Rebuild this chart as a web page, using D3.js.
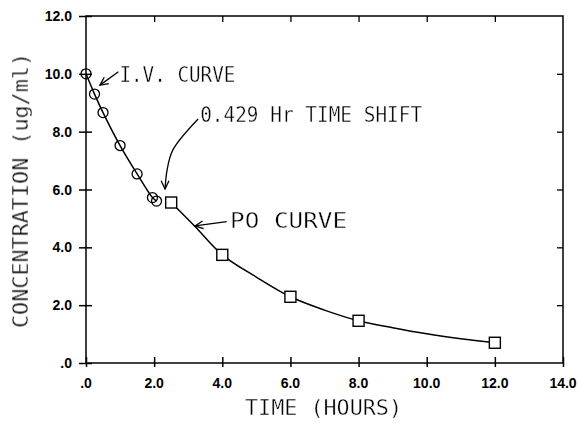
<!DOCTYPE html>
<html>
<head>
<meta charset="utf-8">
<script src="https://cdn.jsdelivr.net/npm/d3@7/dist/d3.min.js"></script>
<style>
  html, body { margin: 0; padding: 0; background: #fff; }
  svg { display: block; }
  .lbl { font-family: "DejaVu Sans Mono", monospace; font-size: 22px; fill: #000;
         stroke: #fff; stroke-width: 0.4px; }
  .tick-lbl { font-family: "Liberation Sans", Arial, sans-serif; font-size: 14px; font-weight: bold; fill: #000; }
</style>
</head>
<body>
<svg id="chart" width="578" height="423">
  <defs>
    <!-- pass-through filter: draws the titles into their own grey-scale layer -->
    <filter id="flat" x="0" y="0" width="1" height="1" filterUnits="objectBoundingBox">
      <feOffset dx="0" dy="0"/>
    </filter>
  </defs>
</svg>
<script>
// Intravenous dose: measured concentrations (ug/ml) against time (hours)
const ivTime = [0, 0.25, 0.5, 1.0, 1.5, 1.95, 2.07];
const ivConc = [10.0, 9.30, 8.66, 7.52, 6.54, 5.72, 5.60];

// Oral (PO) dose: measured concentrations
const poTime = [2.5, 4.0, 6.0, 8.0, 12.0];
const poConc = [5.55, 3.74, 2.29, 1.46, 0.70];

// Fitted PO curve, sampled along its length
const poCurveTime = [2.5, 3.2, 4.0, 5.0, 6.0, 7.0, 8.0, 9.0, 10.0, 11.0, 12.0];
const poCurveConc = [5.55, 4.72, 3.74, 2.97, 2.29, 1.83, 1.46, 1.22, 1.01, 0.84, 0.70];

// Axis ticks
const xTicks = [0, 2, 4, 6, 8, 10, 12, 14];
const yTicks = [0, 2, 4, 6, 8, 10, 12];
const tickLabel = v => v === 0 ? ".0" : v.toFixed(1);

(function draw() {
  const svg = d3.select("#chart");
  const x = d3.scaleLinear().domain([0, 14]).range([86, 563]);
  const y = d3.scaleLinear().domain([0, 12]).range([363, 16]);
  const ink = "#000";

  // Frame
  svg.append("rect")
    .attr("x", x(0)).attr("y", y(12))
    .attr("width", x(14) - x(0)).attr("height", y(0) - y(12))
    .attr("fill", "none").attr("stroke", ink).attr("stroke-width", 1.5);

  // Bottom axis: ticks cross the line
  const axBottom = svg.append("g").attr("transform", `translate(0,${y(0)})`)
    .call(d3.axisBottom(x).tickValues(xTicks).tickSizeInner(4).tickSizeOuter(0).tickFormat(""));
  axBottom.select(".domain").remove();
  axBottom.selectAll(".tick line").attr("y1", -6).attr("stroke", ink).attr("stroke-width", 1.5);

  // Left axis: ticks cross the line
  const axLeft = svg.append("g").attr("transform", `translate(${x(0)},0)`)
    .call(d3.axisLeft(y).tickValues(yTicks).tickSizeInner(7).tickSizeOuter(0).tickFormat(""));
  axLeft.select(".domain").remove();
  axLeft.selectAll(".tick line").attr("x1", 6).attr("stroke", ink).attr("stroke-width", 1.5);

  // Top and right axes: short inward ticks
  const axTop = svg.append("g").attr("transform", `translate(0,${y(12)})`)
    .call(d3.axisBottom(x).tickValues(xTicks.slice(1, -1)).tickSizeInner(6).tickSizeOuter(0).tickFormat(""));
  axTop.select(".domain").remove();
  axTop.selectAll(".tick line").attr("stroke", ink).attr("stroke-width", 1.3);

  const axRight = svg.append("g").attr("transform", `translate(${x(14)},0)`)
    .call(d3.axisLeft(y).tickValues(yTicks.slice(1, -1)).tickSizeInner(6).tickSizeOuter(0).tickFormat(""));
  axRight.select(".domain").remove();
  axRight.selectAll(".tick line").attr("stroke", ink).attr("stroke-width", 1.3);

  // Tick labels
  svg.append("g").selectAll("text").data(xTicks).join("text")
    .attr("class", "tick-lbl")
    .attr("x", d => x(d)).attr("y", y(0) + 25)
    .attr("text-anchor", "middle")
    .text(tickLabel);

  svg.append("g").selectAll("text").data(yTicks).join("text")
    .attr("class", "tick-lbl")
    .attr("x", x(0) - 14).attr("y", d => y(d) + 5)
    .attr("text-anchor", "end")
    .text(tickLabel);

  // Titles and annotation text share one layer
  const titles = svg.append("g").attr("filter", "url(#flat)");

  // Axis titles
  titles.append("text").attr("class", "lbl")
    .attr("x", 323.5).attr("y", 415)
    .attr("text-anchor", "middle")
    .attr("textLength", 157).attr("lengthAdjust", "spacingAndGlyphs")
    .text("TIME (HOURS)");

  titles.append("text").attr("class", "lbl")
    .attr("transform", "translate(28,190.5) rotate(-90)")
    .attr("text-anchor", "middle")
    .attr("textLength", 275).attr("lengthAdjust", "spacingAndGlyphs")
    .text("CONCENTRATION (ug/ml)");

  // Curves
  const line = d3.line().x(d => x(d[0])).y(d => y(d[1])).curve(d3.curveCatmullRom.alpha(0.5));
  const ivPts = ivTime.map((t, i) => [t, ivConc[i]]);
  const poCurvePts = poCurveTime.map((t, i) => [t, poCurveConc[i]]);

  svg.append("path").datum(ivPts).attr("d", line)
    .attr("fill", "none").attr("stroke", ink).attr("stroke-width", 1.5);
  svg.append("path").datum(poCurvePts).attr("d", line)
    .attr("fill", "none").attr("stroke", ink).attr("stroke-width", 1.5);

  // Markers
  svg.append("g").selectAll("circle").data(ivPts).join("circle")
    .attr("cx", d => x(d[0])).attr("cy", d => y(d[1])).attr("r", 5)
    .attr("fill", "none").attr("stroke", ink).attr("stroke-width", 1.3);

  const sq = 11;
  svg.append("g").selectAll("rect").data(poTime.map((t, i) => [t, poConc[i]])).join("rect")
    .attr("x", d => x(d[0]) - sq / 2).attr("y", d => y(d[1]) - sq / 2)
    .attr("width", sq).attr("height", sq)
    .attr("fill", "#fff").attr("stroke", ink).attr("stroke-width", 1.4);

  // Annotations with arrows
  function arrowHead(g, tip, from, len = 9, spread = 0.45) {
    const ang = Math.atan2(from[1] - tip[1], from[0] - tip[0]);
    const a = [tip[0] + len * Math.cos(ang + spread), tip[1] + len * Math.sin(ang + spread)];
    const b = [tip[0] + len * Math.cos(ang - spread), tip[1] + len * Math.sin(ang - spread)];
    g.append("path").attr("d", `M${a}L${tip}L${b}`)
      .attr("fill", "none").attr("stroke", ink).attr("stroke-width", 1.3);
  }
  const ann = svg.append("g");

  // I.V. CURVE
  const ivArrowFrom = [x(0.95), y(10.07)], ivArrowTip = [x(0.41), y(9.61)];
  ann.append("path").attr("d", `M${ivArrowFrom}L${ivArrowTip}`)
    .attr("stroke", ink).attr("stroke-width", 1.3);
  arrowHead(ann, ivArrowTip, ivArrowFrom);
  titles.append("text").attr("class", "lbl")
    .attr("x", x(0.98)).attr("y", y(9.73))
    .attr("textLength", 116).attr("lengthAdjust", "spacingAndGlyphs")
    .text("I.V. CURVE");

  // PO CURVE
  const poArrowFrom = [x(4.13), y(4.89)], poArrowTip = [x(3.20), y(4.74)];
  ann.append("path").attr("d", `M${poArrowFrom}L${poArrowTip}`)
    .attr("stroke", ink).attr("stroke-width", 1.3);
  arrowHead(ann, poArrowTip, poArrowFrom);
  titles.append("text").attr("class", "lbl")
    .attr("x", x(4.23)).attr("y", y(4.66))
    .attr("textLength", 117).attr("lengthAdjust", "spacingAndGlyphs")
    .text("PO CURVE");

  // Time shift label with a curved arrow down to the first PO point
  const shiftPath = [[3.29, 8.44], [2.55, 7.37], [2.38, 6.67], [2.32, 6.02]].map(d => [x(d[0]), y(d[1])]);
  ann.append("path").attr("d", d3.line().curve(d3.curveCatmullRom)(shiftPath))
    .attr("fill", "none").attr("stroke", ink).attr("stroke-width", 1.3);
  arrowHead(ann, shiftPath[3], [shiftPath[3][0], shiftPath[3][1] - 10]);
  titles.append("text").attr("class", "lbl")
    .attr("x", x(3.35)).attr("y", y(8.33))
    .attr("textLength", 222).attr("lengthAdjust", "spacingAndGlyphs")
    .text("0.429 Hr TIME SHIFT");
})();
</script>
</body>
</html>
